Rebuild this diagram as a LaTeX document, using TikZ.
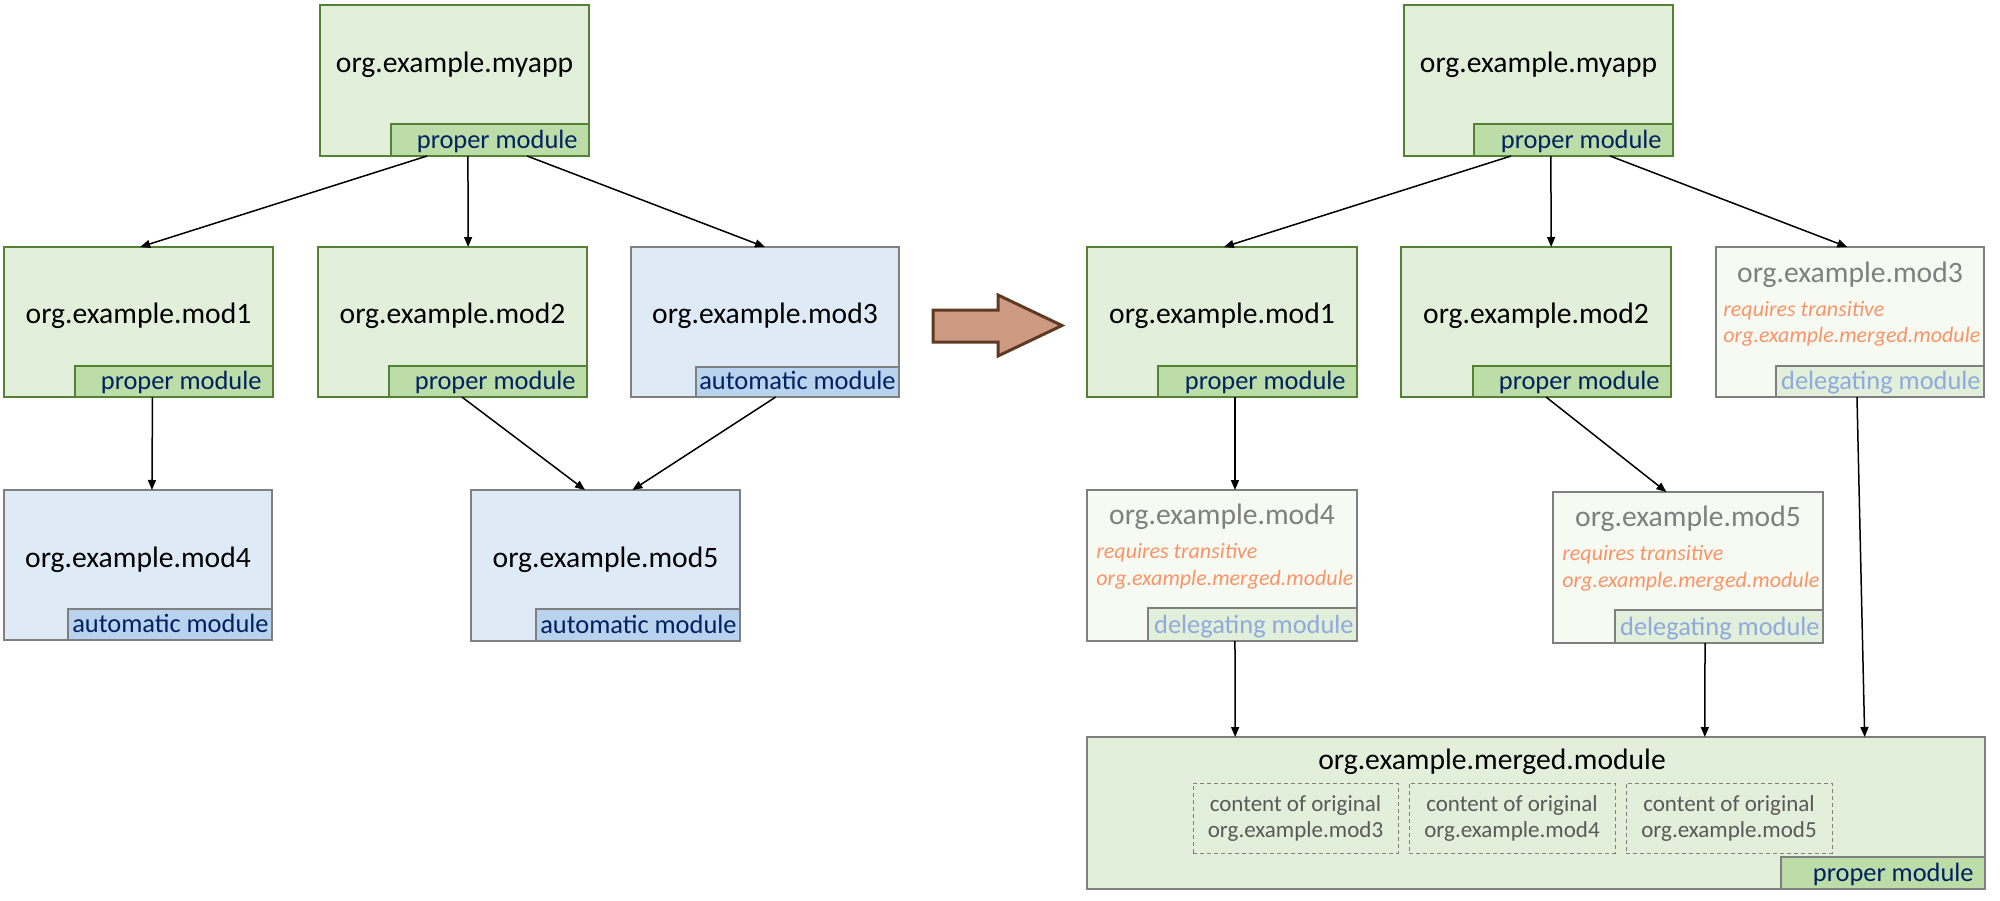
\documentclass[tikz,border=0pt]{standalone}
\usepackage{fontspec}
\setmainfont{Carlito}
\usetikzlibrary{arrows.meta,calc}
\definecolor{gfill}{HTML}{E2EFDA}
\definecolor{gborder}{HTML}{548235}
\definecolor{glab}{HTML}{BCDCA8}
\definecolor{labtxt}{HTML}{002060}
\definecolor{bfill}{HTML}{DEEBF7}
\definecolor{blab}{HTML}{B9D2EE}
\definecolor{grayseven}{HTML}{7F7F7F}
\definecolor{dfill}{HTML}{F7FAF3}
\definecolor{dtxt}{HTML}{8FAADC}
\definecolor{orng}{HTML}{F99466}
\definecolor{ctxt}{HTML}{595959}
\definecolor{afill}{HTML}{CD9B82}
\definecolor{aborder}{HTML}{5E3A23}
\tikzset{
 basebox/.style={inner sep=0pt, outer sep=0pt, line width=1pt},
 propermod/.style={basebox, draw=gborder, fill=gfill},
 properlab/.style={basebox, draw=gborder, fill=glab},
 automod/.style={basebox, draw=grayseven, fill=bfill},
 autolab/.style={basebox, draw=grayseven, fill=blab},
 delegmod/.style={basebox, draw=grayseven, fill=dfill},
 deleglab/.style={basebox, draw=grayseven, fill=gfill},
 mergedmod/.style={basebox, draw=grayseven, fill=gfill},
 mergedlab/.style={basebox, draw=grayseven, fill=glab},
 dashbox/.style={inner sep=0pt, outer sep=0pt, draw=grayseven, line width=0.5pt, dash pattern=on 2pt off 1.5pt, font=\fontsize{11.5}{13}\selectfont, text=ctxt, align=center},
 titletext/.style={inner sep=0pt, font=\fontsize{14.8}{17}\selectfont, text=black, anchor=base},
 graytitle/.style={titletext, text=grayseven},
 labtext/.style={inner sep=0pt, font=\fontsize{13.2}{15}\selectfont, text=labtxt, anchor=base east},
 delegtext/.style={labtext, text=dtxt},
 reqtext/.style={inner sep=0pt, font=\fontsize{11}{13}\selectfont\itshape, text=orng, anchor=base west},
 conn/.style={line width=0.75pt, -{Triangle[length=5pt,width=4pt]}},
 bigarrow/.style={draw=aborder, fill=afill, line width=1.5pt, line join=miter},
}
\newcommand{\modbox}[7][]{\node[#7, minimum width={(#4-#2)*0.5pt}, minimum height={(#5-#3)*0.5pt}] (#6) at ({(#2+#4)/2},{(#3+#5)/2}) {#1};}
\begin{document}
\begin{tikzpicture}[x=0.5pt,y=-0.5pt]
\useasboundingbox (0,0) rectangle (2000,900);
% ---------- left side ----------
\modbox{320}{5}{589}{156}{myappL}{propermod}
\modbox{391}{124}{589}{156}{myappLlab}{properlab}
\node[titletext] (myappLt) at (454.5,72) {org.example.myapp};
\node[labtext] (myappLlt) at (578,148.5) {proper module};

\modbox{4}{247}{273}{397}{modaL}{propermod}
\modbox{75}{366}{273}{397}{modaLlab}{properlab}
\node[titletext] (modaLt) at (138.5,323) {org.example.mod1};
\node[labtext] (modaLlt) at (262,389.5) {proper module};

\modbox{318}{247}{587}{397}{modbL}{propermod}
\modbox{389}{366}{587}{397}{modbLlab}{properlab}
\node[titletext] (modbLt) at (452.5,323) {org.example.mod2};
\node[labtext] (modbLlt) at (576,389.5) {proper module};

\modbox{631}{247}{899}{397}{modcL}{automod}
\modbox{696}{367}{899}{397}{modcLlab}{autolab}
\node[titletext] (modcLt) at (765,323) {org.example.mod3};
\node[labtext] (modcLlt) at (896,389.5) {automatic module};

\modbox{4}{490}{272}{640}{moddL}{automod}
\modbox{68}{609}{272}{640}{moddLlab}{autolab}
\node[titletext] (moddLt) at (138,567) {org.example.mod4};
\node[labtext] (moddLlt) at (269,632.5) {automatic module};

\modbox{471}{490}{740}{641}{modeL}{automod}
\modbox{536}{609}{740}{641}{modeLlab}{autolab}
\node[titletext] (modeLt) at (605.5,567) {org.example.mod5};
\node[labtext] (modeLlt) at (737,633.5) {automatic module};

\draw[conn] ($(myappL.south west)!0.398!(myappL.south east)$) -- ($(modaL.north west)!0.506!(modaL.north east)$);
\draw[conn] ($(myappL.south west)!0.55!(myappL.south east)$) -- ($(modbL.north west)!0.558!(modbL.north east)$);
\draw[conn] ($(myappL.south west)!0.77!(myappL.south east)$) -- ($(modcL.north west)!0.5!(modcL.north east)$);
\draw[conn] ($(modaL.south west)!0.552!(modaL.south east)$) -- ($(moddL.north west)!0.552!(moddL.north east)$);
\draw[conn] ($(modbL.south west)!0.535!(modbL.south east)$) -- ($(modeL.north west)!0.424!(modeL.north east)$);
\draw[conn] ($(modcL.south west)!0.54!(modcL.south east)$) -- ($(modeL.north west)!0.60!(modeL.north east)$);

% ---------- big arrow ----------
\draw[bigarrow] (933,310) -- (998,310) -- (998,295) -- (1062,325.5) -- (998,356) -- (998,342) -- (933,342) -- cycle;

% ---------- right side ----------
\modbox{1404}{5}{1673}{156}{myappR}{propermod}
\modbox{1474}{124}{1673}{156}{myappRlab}{properlab}
\node[titletext] (myappRt) at (1538.5,72) {org.example.myapp};
\node[labtext] (myappRlt) at (1662,148.5) {proper module};

\modbox{1087}{247}{1357}{397}{modaR}{propermod}
\modbox{1158}{366}{1357}{397}{modaRlab}{properlab}
\node[titletext] (modaRt) at (1222,323) {org.example.mod1};
\node[labtext] (modaRlt) at (1346,389.5) {proper module};

\modbox{1401}{247}{1671}{397}{modbR}{propermod}
\modbox{1473}{366}{1671}{397}{modbRlab}{properlab}
\node[titletext] (modbRt) at (1536,323) {org.example.mod2};
\node[labtext] (modbRlt) at (1660,389.5) {proper module};

\modbox{1716}{247}{1984}{397}{modcR}{delegmod}
\modbox{1776}{366}{1984}{397}{modcRlab}{deleglab}
\node[graytitle] (modcRt) at (1850,282) {org.example.mod3};
\node[reqtext] (modcRr1) at (1723,316) {requires transitive};
\node[reqtext] (modcRr2) at (1723,342) {org.example.merged.module};
\node[delegtext] (modcRlt) at (1981,389.5) {delegating module};

\modbox{1087}{490}{1357}{641}{moddR}{delegmod}
\modbox{1148}{608}{1357}{641}{moddRlab}{deleglab}
\node[graytitle] (moddRt) at (1222,524) {org.example.mod4};
\node[reqtext] (moddRr1) at (1096,558) {requires transitive};
\node[reqtext] (moddRr2) at (1096,585) {org.example.merged.module};
\node[delegtext] (moddRlt) at (1354,633.5) {delegating module};

\modbox{1553}{492}{1823}{643}{modeR}{delegmod}
\modbox{1615}{610}{1823}{643}{modeRlab}{deleglab}
\node[graytitle] (modeRt) at (1688,526) {org.example.mod5};
\node[reqtext] (modeRr1) at (1562,560) {requires transitive};
\node[reqtext] (modeRr2) at (1562,587) {org.example.merged.module};
\node[delegtext] (modeRlt) at (1820,635.5) {delegating module};

\modbox{1087}{737}{1985}{889}{merged}{mergedmod}
\modbox{1781}{857}{1985}{889}{mergedlab}{mergedlab}
\node[titletext] (mergedt) at (1492,769) {org.example.merged.module};
\node[labtext] (mergedlt) at (1974,881.5) {proper module};
\modbox[content of original\\org.example.mod3]{1193}{783}{1398}{853}{cthree}{dashbox}
\modbox[content of original\\org.example.mod4]{1409}{783}{1615}{853}{cfour}{dashbox}
\modbox[content of original\\org.example.mod5]{1626}{783}{1832}{853}{cfive}{dashbox}

\draw[conn] ($(myappR.south west)!0.398!(myappR.south east)$) -- ($(modaR.north west)!0.507!(modaR.north east)$);
\draw[conn] ($(myappR.south west)!0.546!(myappR.south east)$) -- ($(modbR.north west)!0.556!(modbR.north east)$);
\draw[conn] ($(myappR.south west)!0.766!(myappR.south east)$) -- ($(modcR.north west)!0.49!(modcR.north east)$);
\draw[conn] ($(modaR.south west)!0.548!(modaR.south east)$) -- ($(moddR.north west)!0.548!(moddR.north east)$);
\draw[conn] ($(modbR.south west)!0.537!(modbR.south east)$) -- ($(modeR.north west)!0.42!(modeR.north east)$);
\draw[conn] ($(moddR.south west)!0.548!(moddR.south east)$) -- ($(merged.north west)!0.165!(merged.north east)$);
\draw[conn] ($(modeR.south west)!0.563!(modeR.south east)$) -- ($(merged.north west)!0.688!(merged.north east)$);
\draw[conn] ($(modcR.south west)!0.526!(modcR.south east)$) -- ($(merged.north west)!0.866!(merged.north east)$);
\end{tikzpicture}
\end{document}
